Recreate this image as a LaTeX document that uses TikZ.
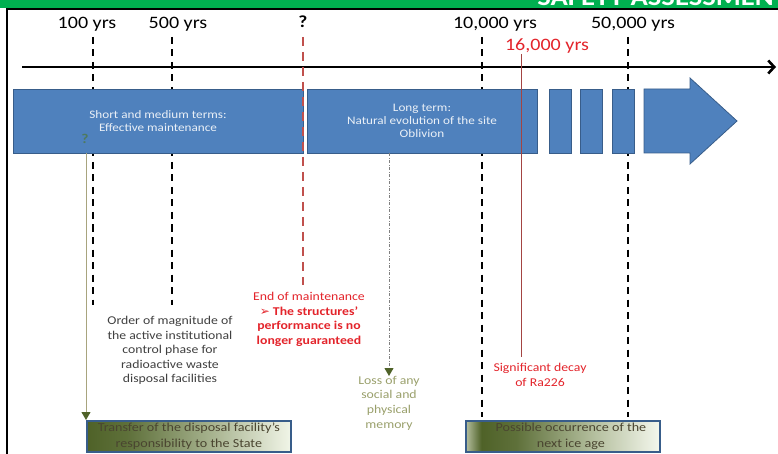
\documentclass[tikz,border=0pt]{standalone}
\usepackage{fontspec}
\setmainfont[FakeStretch=1.15]{Carlito}
\newfontfamily\dingfont{DejaVu Sans}
\usepackage{tikz}
\usetikzlibrary{arrows.meta,positioning}
\definecolor{hdrgreen}{HTML}{00B050}
\definecolor{termblue}{HTML}{4F81BD}
\definecolor{termedge}{HTML}{385D8A}
\definecolor{maintred}{HTML}{C0504D}
\definecolor{alertred}{HTML}{E3242B}
\definecolor{olivedk}{HTML}{4F6228}
\definecolor{olivelt}{HTML}{EBF1DE}
\definecolor{olivetan}{HTML}{A8A47E}
\definecolor{memolive}{HTML}{9AA06C}
\definecolor{qgreen}{HTML}{4E7A5E}
\definecolor{bk75}{HTML}{404040}
\definecolor{boxtext}{HTML}{4A4530}
\pgfdeclarehorizontalshading{transferfade}{100bp}{color(0bp)=(olivedk); color(25bp)=(olivedk);
  color(35bp)=(olivedk!90!olivelt); color(55bp)=(olivedk!45!olivelt); color(75bp)=(olivelt!70!white);
  color(100bp)=(olivelt!70!white)}
\pgfdeclarehorizontalshading{icefade}{100bp}{color(0bp)=(olivedk!35!olivelt); color(25bp)=(olivedk!35!olivelt);
  color(29bp)=(olivedk); color(38bp)=(olivedk!90!olivelt); color(58bp)=(olivedk!35!olivelt);
  color(75bp)=(olivelt!55!white); color(100bp)=(olivelt!55!white)}
\tikzset{
  yearlabel/.style={
    font=\fontsize{17.5}{17.5}\selectfont, text=#1, inner sep=1bp
  },
  yearlabel/.default=black,
  tickline/.style={
    line width=2.8bp, dash pattern=on 7bp off 5.5bp, color=#1
  },
  tickline/.default=black,
  termbox/.style={
    rectangle, draw=termedge, fill=termblue, line width=0.8bp,
    minimum height=64bp, inner sep=0pt,
    font=\fontsize{11.5}{13}\selectfont, text=white!88!termblue, align=center
  },
  termblock/.style={
    draw=termedge, fill=termblue, line width=0.8bp
  },
  notetext/.style={
    font=\fontsize{12}{14.6}\selectfont, text=#1, align=center, inner sep=0pt
  },
  notetext/.default=bk75,
  eventtext/.style={
    font=\fontsize{12.3}{16}\selectfont, text=boxtext, align=center, inner sep=0pt
  },
  eventbox/.style={
    rectangle, draw=termedge, line width=1.8bp, shading=#1,
    minimum height=31bp, eventtext
  },
  droparrow/.style={
    -{Triangle[length=8bp, width=9bp, color=olivedk]}, color=#1, line width=1bp
  },
  droparrow/.default=olivetan,
}

\begin{document}
\begin{tikzpicture}[x=1bp, y=-1bp]
  \useasboundingbox (0,0) rectangle (778,454);
  % header strip and frame
  \fill[hdrgreen] (0,0) rectangle (778,8);
  \node[anchor=base east, inner sep=0pt, text=white,
    font=\fontsize{25}{25}\selectfont\bfseries] (hdr) at (788,5.5) {SAFETY ASSESSMENT};
  \draw[line width=1.3bp] (7,454) -- (7,9) -- (780,9);

  % time scale
  \node[yearlabel] (y100) at (87,24) {100 yrs};
  \node[yearlabel] (y500) at (178,24) {500 yrs};
  \node[yearlabel, font=\fontsize{17}{17}\selectfont\bfseries] (yend) at (303,22) {?};
  \node[yearlabel] (y10k) at (495,24) {10,000 yrs};
  \node[yearlabel] (y50k) at (633,24) {50,000 yrs};
  \node[yearlabel=alertred] (y16k) at (547,46) {16,000 yrs};
  \foreach \x/\yb in {93/305, 172/305, 482/417, 628/417}
    \draw[tickline] (\x,37) -- (\x,\yb);
  \coordinate (axisstart) at (22,67);
  \coordinate (axisend) at (776,67);
  \draw[line width=2.6bp, -{Straight Barb[length=6bp, width=13bp]}] (axisstart) -- (axisend);

  % terms
  \node[termbox, minimum width=290bp] (shortterm) at (158,121)
    {Short and medium terms:\\Effective maintenance};
  \node[termbox, minimum width=230bp] (longterm) at (422,121)
    {Long term:\\Natural evolution of the site\\Oblivion};
  \foreach \x in {549,580,612}
    \draw[termblock] (\x,89) rectangle ++(22,64);
  \draw[termblock] (644,89) -- (690,89) -- (690,78) -- (737,121)
    -- (690,164) -- (690,153) -- (644,153) -- cycle;
  \node[inner sep=0pt, text=qgreen, font=\fontsize{13.5}{13.5}\selectfont\bfseries] (unknown) at (85,139) {?};

  \draw[tickline=maintred, dash pattern=on 9bp off 6bp] (303,37) -- (303,285);
  \coordinate (decaytop) at (521,357);
  \draw[maintred!85!black, line width=0.8bp] (y16k.south -| decaytop) -- (decaytop);

  % notes
  \node[notetext, anchor=north] (ordermag) at (170,316)
    {Order of magnitude of\\the active institutional\\control phase for\\radioactive waste\\disposal facilities};
  \node[notetext=alertred, anchor=north] (endmaint) at (309,292)
    {End of maintenance\\\textbf{{\dingfont\mdseries ➢} The structures'}\\\textbf{performance is no}\\\textbf{longer guaranteed}};
  \node[notetext=alertred, anchor=north] (decay) at (540,363) {Significant decay\\of Ra226};
  \node[notetext=memolive, anchor=north] (memory) at (389,376) {Loss of any\\social and\\physical\\memory};

  % events
  \node[eventbox=transferfade, minimum width=204bp, anchor=north west] (transfer) at (86,420)
    {Transfer of the disposal facility's\\responsibility to the State};
  \node[eventbox=icefade, minimum width=194bp, anchor=north west] (iceage) at (465,420) {};
  \node[eventtext] (icetext) at ([xshift=8bp]iceage.center)
    {Possible occurrence of the\\next ice age};

  \draw[droparrow] (shortterm.south -| transfer.north west) -- (transfer.north west);
  \draw[droparrow=gray, dash pattern=on 3bp off 1.5bp on 1bp off 1.5bp]
    (longterm.south -| memory.north) -- (memory.north);
\end{tikzpicture}
\end{document}
